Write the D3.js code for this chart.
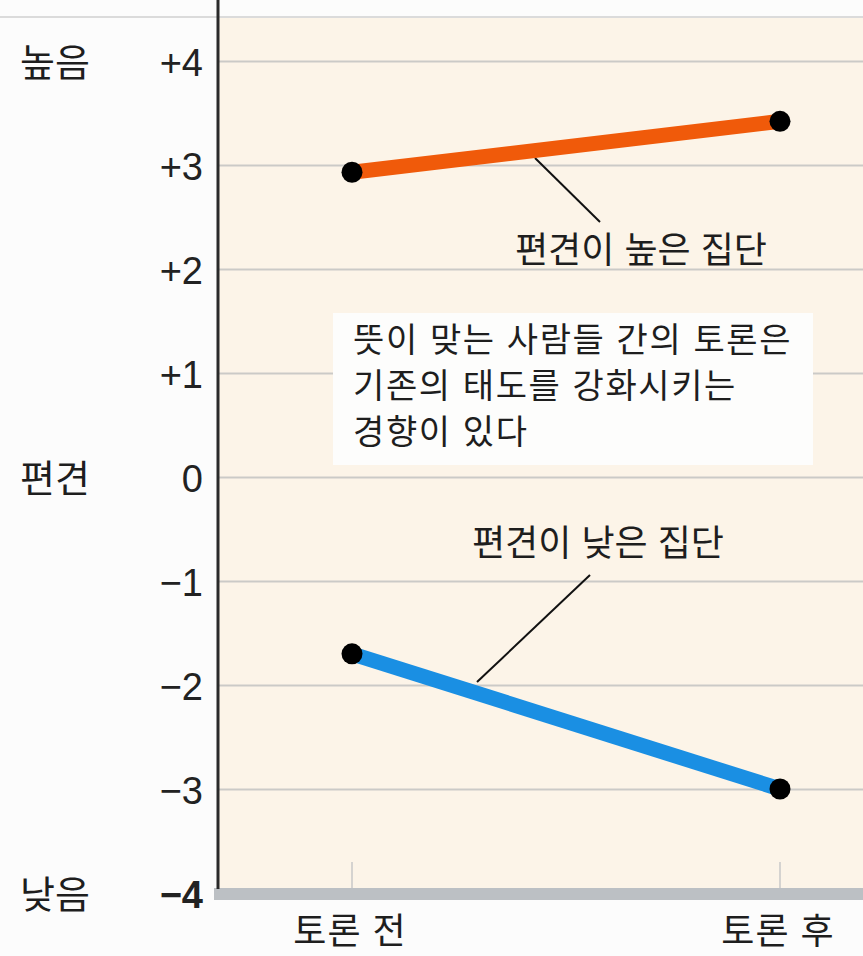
<!DOCTYPE html>
<html lang="ko">
<head>
<meta charset="utf-8">
<style>
  body { margin: 0; background: #fcfcfc; }
  svg { display: block; font-family: "Noto Sans CJK KR", "Noto Sans", sans-serif; }
  .tick-num text { font-family: "Liberation Sans", Arial, sans-serif; font-size: 38px; fill: #222; }
  .grid line { stroke: #cbcac7; stroke-width: 2px; }
  .kr { fill: #1e1e1e; }
</style>
</head>
<body>
<svg width="863" height="956"></svg>
<script src="https://cdn.jsdelivr.net/npm/d3@7"></script>
<script>
// data
const categories = ["토론 전", "토론 후"]
const highGroup = [2.93, 3.42]   // 편견이 높은 집단
const lowGroup = [-1.70, -3.00]  // 편견이 낮은 집단
const yTicks = [4, 3, 2, 1, 0, -1, -2, -3, -4]
const yTickLabels = ["+4", "+3", "+2", "+1", "0", "\u22121", "\u22122", "\u22123", "\u22124"]
const sideLabels = [{ v: 4, t: "높음" }, { v: 0, t: "편견" }, { v: -4, t: "낮음" }]
const calloutLines = ["뜻이 맞는 사람들 간의 토론은", "기존의 태도를 강화시키는", "경향이 있다"]

const width = 863
const height = 956
const panel = { left: 218, top: 17, right: 863, bottom: 888 }

const svg = d3.select("svg")

const x = d3.scalePoint().domain(categories).range([352, 780])
const y = d3.scaleLinear().domain([-4, 4]).range([893, 61])

// top rule
svg.append("line")
  .attr("x1", 0).attr("x2", width)
  .attr("y1", panel.top).attr("y2", panel.top)
  .attr("stroke", "#d0d0d0").attr("stroke-width", 1.5)

// panel background
svg.append("rect")
  .attr("x", panel.left).attr("y", panel.top + 1)
  .attr("width", panel.right - panel.left)
  .attr("height", panel.bottom - panel.top - 1)
  .attr("fill", "#fcf4e8")

// gridlines
const grid = svg.append("g")
  .attr("class", "grid")
  .attr("transform", `translate(${panel.left},0)`)
  .call(d3.axisRight(y).tickValues(yTicks.filter(d => d > -4)).tickSize(panel.right - panel.left).tickFormat(""))
grid.select(".domain").remove()

// x ticks (light)
svg.append("g")
  .selectAll("line")
  .data(categories)
  .join("line")
  .attr("x1", d => x(d)).attr("x2", d => x(d))
  .attr("y1", 862).attr("y2", panel.bottom)
  .attr("stroke", "#c8c8c8").attr("stroke-width", 1.5)

// bottom band
svg.append("rect")
  .attr("x", 214).attr("y", panel.bottom)
  .attr("width", width - 214).attr("height", 12)
  .attr("fill", "#bcc0c4")

// vertical axis line
svg.append("line")
  .attr("x1", panel.left).attr("x2", panel.left)
  .attr("y1", 0).attr("y2", panel.bottom + 1)
  .attr("stroke", "#2a2a2a").attr("stroke-width", 3)

// y tick labels
const yAxis = svg.append("g")
  .attr("class", "tick-num")
  .attr("transform", `translate(${panel.left},0)`)
  .call(d3.axisLeft(y).tickValues(yTicks).tickSize(0).tickPadding(15)
    .tickFormat(d => yTickLabels[yTicks.indexOf(d)]))
yAxis.select(".domain").remove()
yAxis.selectAll("text")
  .attr("dy", "0.38em")
  .style("font-weight", d => d === -4 ? "bold" : null)

// side labels
svg.append("g")
  .selectAll("text")
  .data(sideLabels)
  .join("text")
  .attr("class", "kr")
  .attr("x", 20)
  .attr("y", d => y(d.v))
  .attr("dy", "0.4em")
  .style("font-size", "38px")
  .text(d => d.t)

// x labels
svg.append("g")
  .selectAll("text")
  .data(categories)
  .join("text")
  .attr("class", "kr")
  .attr("x", d => x(d) - 2)
  .attr("y", 944)
  .attr("text-anchor", "middle")
  .style("font-size", "36px")
  .style("letter-spacing", "1px")
  .text(d => d)

// callout box
svg.append("rect")
  .attr("x", 333).attr("y", 313)
  .attr("width", 480).attr("height", 152)
  .attr("fill", "#fdfdfc")
svg.append("g")
  .selectAll("text")
  .data(calloutLines)
  .join("text")
  .attr("class", "kr")
  .attr("x", 353)
  .attr("y", (d, i) => 352 + i * 46)
  .style("font-size", "34px")
  .style("letter-spacing", "1.6px")
  .text(d => d)

// leader lines
const leaders = [
  { x1: 535, y1: 158, x2: 600, y2: 222 },
  { x1: 590, y1: 575, x2: 477, y2: 682 }
]
svg.append("g")
  .selectAll("line")
  .data(leaders)
  .join("line")
  .attr("x1", d => d.x1).attr("y1", d => d.y1)
  .attr("x2", d => d.x2).attr("y2", d => d.y2)
  .attr("stroke", "#111").attr("stroke-width", 2)

// series lines
const series = [
  { values: highGroup, color: "#f05a0a" },
  { values: lowGroup, color: "#1a8fe3" }
]
const line = d3.line()
  .x((d, i) => x(categories[i]))
  .y(d => y(d))

svg.append("g")
  .selectAll("path")
  .data(series)
  .join("path")
  .attr("d", d => line(d.values))
  .attr("fill", "none")
  .attr("stroke", d => d.color)
  .attr("stroke-width", 15)

svg.append("g")
  .selectAll("circle")
  .data(series.flatMap(s => s.values.map((v, i) => ({ v, c: categories[i] }))))
  .join("circle")
  .attr("cx", d => x(d.c))
  .attr("cy", d => y(d.v))
  .attr("r", 10.5)
  .attr("fill", "#000")

// series labels
const seriesLabels = [
  { t: "편견이 높은 집단", x: 641, y: 263 },
  { t: "편견이 낮은 집단", x: 598, y: 556 }
]
svg.append("g")
  .selectAll("text")
  .data(seriesLabels)
  .join("text")
  .attr("class", "kr")
  .attr("x", d => d.x)
  .attr("y", d => d.y)
  .attr("text-anchor", "middle")
  .style("font-size", "36px")
  .text(d => d.t)
</script>
</body>
</html>
